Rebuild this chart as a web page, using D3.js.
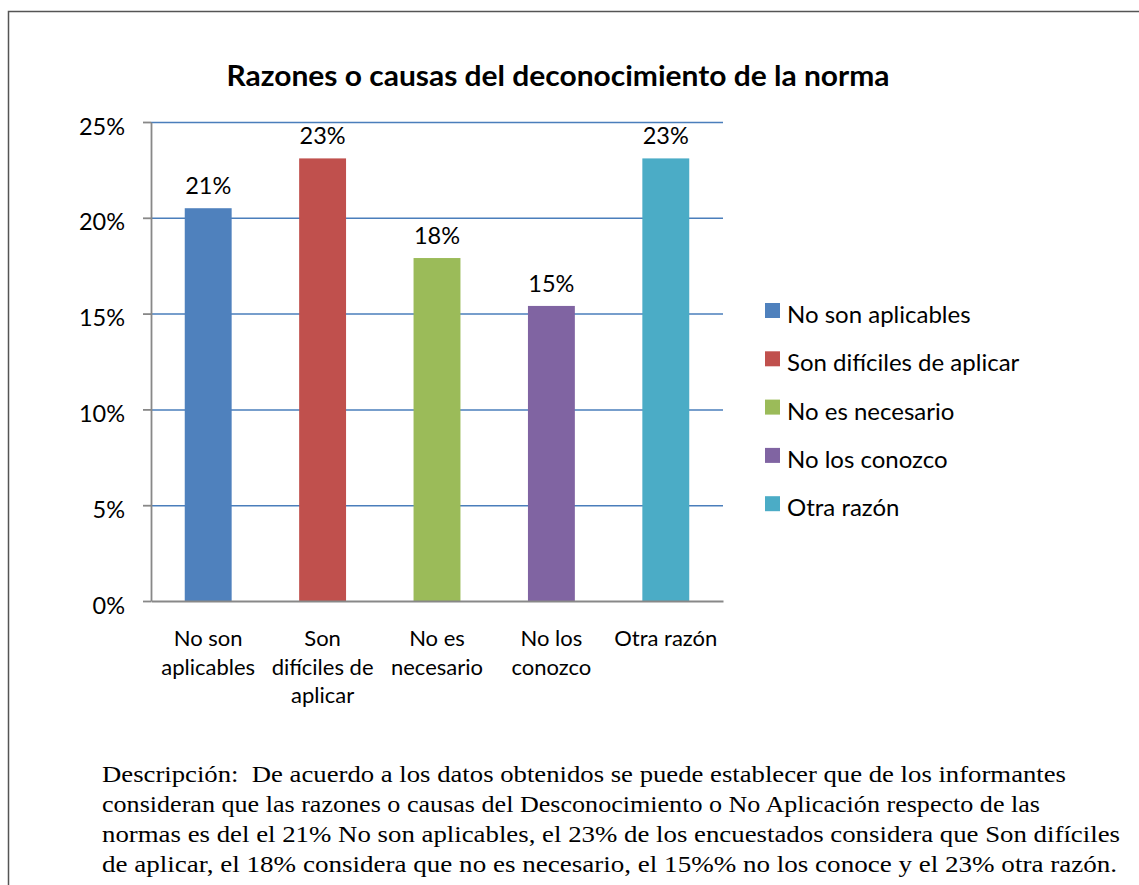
<!DOCTYPE html>
<html>
<head>
<meta charset="utf-8">
<script src="https://cdn.jsdelivr.net/npm/d3@7"></script>
<style>
  body { margin: 0; background: #fff; }
  svg { display: block; }
</style>
</head>
<body>
<div id="chart"></div>
<script>
// data
let categories = ["No son aplicables", "Son difíciles de aplicar", "No es necesario", "No los conozco", "Otra razón"];
let catLines = [["No son", "aplicables"], ["Son", "difíciles de", "aplicar"], ["No es", "necesario"], ["No los", "conozco"], ["Otra razón"]];
let values = [0.205, 0.231, 0.179, 0.154, 0.231];
let colors = ["#4f81bd", "#c0504d", "#9bbb59", "#8064a2", "#4bacc6"];
let yTicks = [0, 0.05, 0.10, 0.15, 0.20, 0.25];
let title = "Razones o causas del deconocimiento de la norma";
let description = [
    "Descripción:  De acuerdo a los datos obtenidos se puede establecer que de los informantes",
    "consideran que las razones o causas del Desconocimiento o No Aplicación respecto de las",
    "normas es del el 21% No son aplicables, el 23% de los encuestados considera que\u00a0Son difíciles",
    "de aplicar, el 18% considera que no es necesario, el 15%% no los conoce y el 23% otra razón."
];
let descWidths = [964, 938, 1018, 1015];

let width = 1139, height = 885;
let font = "Lato, 'Open Sans', sans-serif";

let svg = d3.select("#chart").append("svg")
    .attr("width", width)
    .attr("height", height);

// frame around the chart
svg.append("rect")
    .attr("x", 8.5).attr("y", 11.5)
    .attr("width", 1200).attr("height", 1000)
    .attr("fill", "none")
    .attr("stroke", "#555")
    .attr("stroke-width", 1.5);

let plot = {left: 151, right: 723, top: 122, bottom: 601};

let x = d3.scaleBand()
    .domain(categories)
    .range([plot.left, plot.right])
    .paddingInner(0.59)
    .paddingOuter(0.295);

let y = d3.scaleLinear()
    .domain([0, 0.25])
    .range([plot.bottom, plot.top]);

// gridlines
let grid = svg.append("g")
    .attr("transform", `translate(${plot.left},0)`)
    .call(d3.axisLeft(y).tickValues(yTicks.slice(1)).tickSize(-(plot.right - plot.left)).tickFormat(""));
grid.select(".domain").remove();
grid.selectAll("line").attr("stroke", "#4a7ebb").attr("stroke-width", 1.5);

// bars
svg.selectAll("rect.bar")
    .data(values)
    .enter().append("rect")
    .attr("class", "bar")
    .attr("x", (d, i) => x(categories[i]))
    .attr("y", d => y(d))
    .attr("width", x.bandwidth())
    .attr("height", d => y(0) - y(d))
    .attr("fill", (d, i) => colors[i]);

// value labels
svg.selectAll("text.val")
    .data(values)
    .enter().append("text")
    .attr("class", "val")
    .attr("x", (d, i) => x(categories[i]) + x.bandwidth() / 2)
    .attr("y", d => y(d) - 14)
    .attr("text-anchor", "middle")
    .attr("font-family", font)
    .attr("font-size", 23.5)
    .attr("fill", "#000")
    .text(d => d3.format(".0%")(d));

// y axis
let yAxis = svg.append("g")
    .attr("transform", `translate(${plot.left},0)`)
    .call(d3.axisLeft(y).tickValues(yTicks).tickSize(8).tickSizeOuter(0).tickPadding(18).tickFormat(d3.format(".0%")));
yAxis.select(".domain").attr("stroke", "#888").attr("stroke-width", 1.8);
yAxis.selectAll("line").attr("stroke", "#888").attr("stroke-width", 1.8);
yAxis.selectAll("text")
    .attr("font-family", font)
    .attr("font-size", 23.5)
    .attr("fill", "#000")
    .attr("dy", "12px");

// x axis
let xAxis = svg.append("g")
    .attr("transform", `translate(0,${plot.bottom})`)
    .call(d3.axisBottom(x).tickSize(0).tickSizeOuter(0).tickFormat(""));
xAxis.select(".domain").attr("stroke", "#888").attr("stroke-width", 1.8);

let catText = svg.selectAll("text.cat")
    .data(catLines)
    .enter().append("text")
    .attr("class", "cat")
    .attr("text-anchor", "middle")
    .attr("font-family", font)
    .attr("font-size", 22)
    .attr("fill", "#000");
catText.each(function(lines, i) {
    let t = d3.select(this);
    lines.forEach((ln, j) => {
        t.append("tspan")
            .attr("x", x(categories[i]) + x.bandwidth() / 2)
            .attr("y", plot.bottom + 45 + j * 28.5)
            .text(ln);
    });
});

// title
svg.append("text")
    .attr("x", 558)
    .attr("y", 86)
    .attr("text-anchor", "middle")
    .attr("font-family", font)
    .attr("font-weight", "bold")
    .attr("font-size", 29)
    .attr("fill", "#000")
    .attr("textLength", 663)
    .attr("lengthAdjust", "spacingAndGlyphs")
    .text(title);

// legend
let legend = svg.selectAll("g.legend")
    .data(categories)
    .enter().append("g")
    .attr("class", "legend")
    .attr("transform", (d, i) => `translate(765,${303 + i * 48.3})`);
legend.append("rect")
    .attr("width", 15).attr("height", 15)
    .attr("fill", (d, i) => colors[i]);
legend.append("text")
    .attr("x", 22)
    .attr("y", 20)
    .attr("font-family", font)
    .attr("font-size", 24)
    .attr("fill", "#000")
    .text(d => d);

// description below the chart
svg.selectAll("text.desc")
    .data(description)
    .enter().append("text")
    .attr("class", "desc")
    .attr("x", 102)
    .attr("y", (d, i) => 782 + i * 30)
    .attr("font-family", "'Liberation Serif', 'Times New Roman', serif")
    .attr("font-size", 23)
    .attr("fill", "#000")
    .attr("textLength", (d, i) => descWidths[i])
    .attr("lengthAdjust", "spacingAndGlyphs")
    .style("white-space", "pre")
    .text(d => d);
</script>
</body>
</html>
